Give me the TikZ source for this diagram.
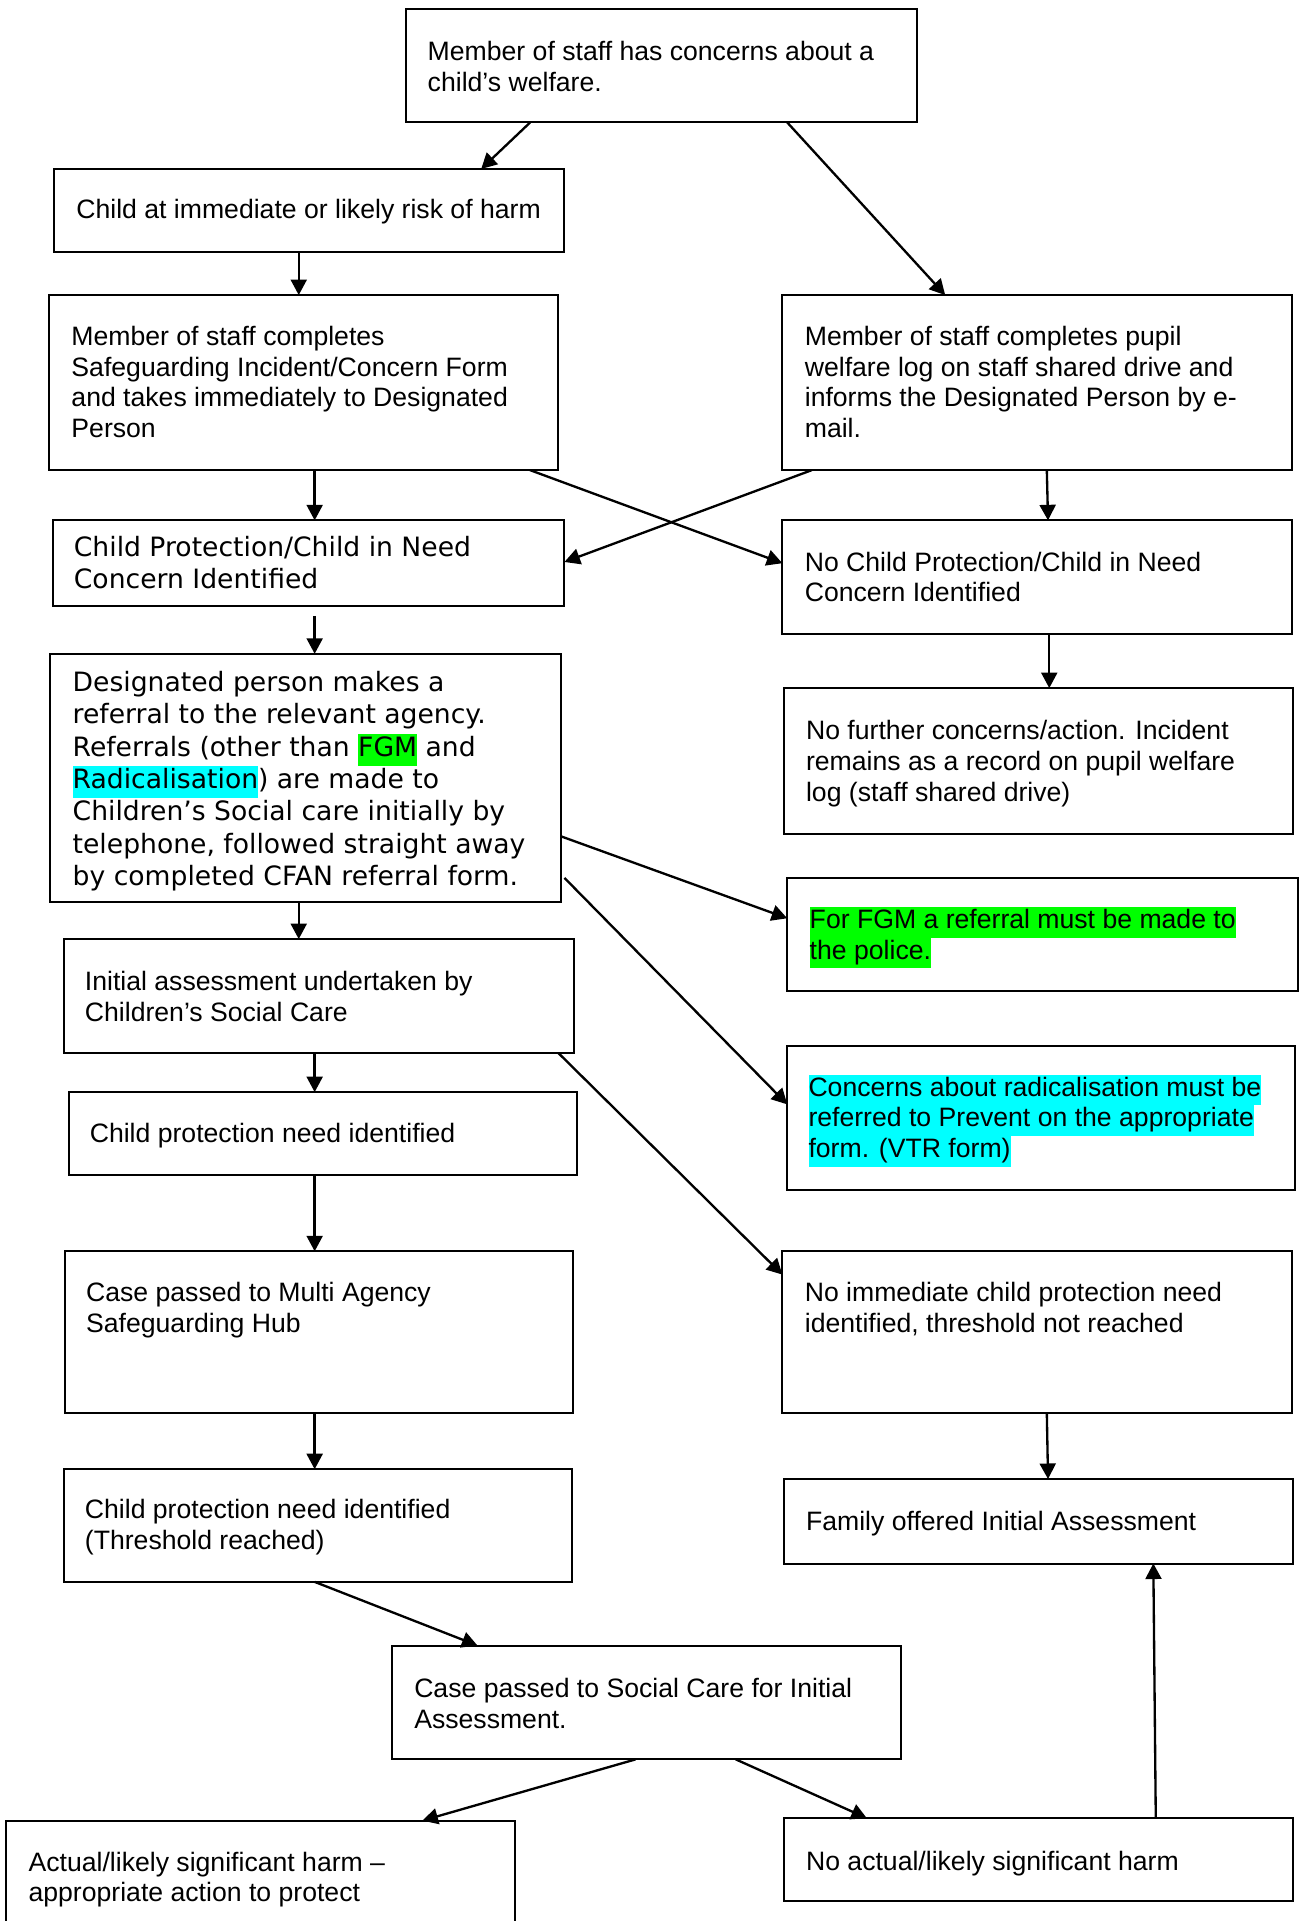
\documentclass[tikz,border=0pt]{standalone}
\usepackage{fontspec}
\setmainfont{Liberation Sans}
\newfontfamily\verd{DejaVu Sans}
\usetikzlibrary{calc,arrows.meta}
\definecolor{hlgreen}{HTML}{00FF00}
\definecolor{hlcyan}{HTML}{00FFFF}
\newcommand{\hlg}[1]{{\setlength{\fboxsep}{0pt}\colorbox{hlgreen}{\strut #1}}}
\newcommand{\hlc}[1]{{\setlength{\fboxsep}{0pt}\colorbox{hlcyan}{\strut #1}}}
\newcommand{\mybox}[5]{\node[box, minimum width={(#4-#2)*0.552pt}, minimum height={(#5-#3)*0.552pt}] (#1) at (#2,#3) {};}
\tikzset{
  box/.style={draw, line width=0.9pt, anchor=north west, inner sep=0pt, outer sep=0pt, rectangle},
  txt/.style={anchor=north west, inner sep=0pt, align=left, font=\fontsize{12pt}{13.8pt}\selectfont},
  vtxt/.style={anchor=north west, inner sep=0pt, align=left, font=\verd\fontsize{12pt}{14.58pt}\selectfont},
  arr/.style={draw, line width=1.05pt, -{Triangle[length=7pt,width=7.2pt]}},
}
\begin{document}
\begin{tikzpicture}[x=0.552pt, y=-0.552pt]
\useasboundingbox (0,0) rectangle (1062,1569);
% boxes
\mybox{b1}{332}{7}{749}{100}
\mybox{b2}{44}{138}{461}{206}
\mybox{b3}{40}{241}{456}{384}
\mybox{b4}{639}{241}{1055}{384}
\mybox{b5}{43}{425}{461}{495}
\mybox{b6}{639}{425}{1055}{518}
\mybox{b7}{640}{562}{1056}{681}
\mybox{b8}{41}{534}{458}{737}
\mybox{b9}{643}{717}{1060}{809}
\mybox{b10}{643}{854}{1058}{972}
\mybox{b11}{52}{767}{469}{860}
\mybox{b12}{56}{892}{471}{960}
\mybox{b13}{53}{1022}{468}{1154}
\mybox{b14}{639}{1022}{1055}{1154}
\mybox{b15}{52}{1200}{467}{1292}
\mybox{b16}{640}{1208}{1056}{1277}
\mybox{b17}{320}{1344}{736}{1437}
\mybox{b18}{5}{1487}{421}{1600}
\mybox{b19}{640}{1485}{1056}{1553}
% texts
\node[txt] (t1) at (349,31.5) {\strut Member of staff has concerns about a\\child’s welfare.};
\node[txt] (t2) at (62,160.5) {\strut Child at immediate or likely risk of harm};
\node[txt] (t3) at (58,264.5) {\strut Member of staff completes\\Safeguarding Incident/Concern Form\\and takes immediately to Designated\\Person};
\node[txt] (t4) at (657,264.5) {\strut Member of staff completes pupil\\welfare log on staff shared drive and\\informs the Designated Person by e-\\mail.};
\node[vtxt] (t5) at (60,435.5) {\strut Child Protection/Child in Need\\Concern Identified};
\node[txt] (t6) at (657,448.5) {\strut No Child Protection/Child in Need\\Concern Identified};
\node[txt] (t7) at (658,586.5) {\strut No further concerns/action. Incident\\remains as a record on pupil welfare\\log (staff shared drive)};
\node[vtxt] (t8) at (59,546) {\strut Designated person makes a\\referral to the relevant agency.\\Referrals (other than \hlg{FGM} and\\\hlc{Radicalisation}) are made to\\Children’s Social care initially by\\telephone, followed straight away\\by completed CFAN referral form.};
\node[txt] (t9) at (661,740.5) {\hlg{For FGM a referral must be made to}\\\hlg{the police.}};
\node[txt] (t10) at (660,877.5) {\hlc{Concerns about radicalisation must be}\\\hlc{referred to Prevent on the appropriate}\\\hlc{form. (VTR form)}};
\node[txt] (t11) at (69,791.5) {\strut Initial assessment undertaken by\\Children’s Social Care};
\node[txt] (t12) at (73,915.5) {\strut Child protection need identified};
\node[txt] (t13) at (70,1045.5) {\strut Case passed to Multi Agency\\Safeguarding Hub};
\node[txt] (t14) at (657,1045.5) {\strut No immediate child protection need\\identified, threshold not reached};
\node[txt] (t15) at (69,1222.5) {\strut Child protection need identified\\(Threshold reached)};
\node[txt] (t16) at (658,1232.5) {\strut Family offered Initial Assessment};
\node[txt] (t17) at (338,1368.5) {\strut Case passed to Social Care for Initial\\Assessment.};
\node[txt] (t18) at (23,1510.5) {\strut Actual/likely significant harm –\\appropriate action to protect};
\node[txt] (t19) at (658,1509.5) {\strut No actual/likely significant harm};
% arrows
\draw[arr] ($(b1.south west)+(101,0)$) -- ($(b2.north west)+(349,0)$);
\draw[arr] ($(b1.south west)+(311,0)$) -- ($(b4.north west)+(133,0)$);
\draw[arr] ($(b2.south west)+(200,0)$) -- ($(b3.north west)+(204,0)$);
\draw[arr] ($(b3.south west)+(217,0)$) -- ($(b5.north west)+(214,0)$);
\draw[arr] ($(b3.south west)+(393,0)$) -- ($(b6.north west)+(0,35)$);
\draw[arr] ($(b4.south west)+(24,0)$) -- ($(b5.north east)+(0,34)$);
\draw[arr] ($(b4.south west)+(216,0)$) -- ($(b6.north west)+(217,0)$);
\draw[arr] ($(b6.south west)+(218,0)$) -- ($(b7.north west)+(217,0)$);
\coordinate (c5) at ($(b5.south west)+(214,8)$);
\draw[arr] (c5) -- ($(b8.north west)+(216,0)$);
\draw[arr] ($(b8.north east)+(0,149)$) -- ($(b9.north west)+(0,33)$);
\draw[arr] ($(b8.north east)+(3,183)$) -- ($(b10.north west)+(0,48)$);
\draw[arr] ($(b8.south west)+(203,0)$) -- ($(b11.north west)+(192,0)$);
\draw[arr] ($(b11.south west)+(205,0)$) -- ($(b12.north west)+(201,0)$);
\draw[arr] ($(b12.south west)+(201,0)$) -- ($(b13.north west)+(204,0)$);
\draw[arr] ($(b11.south east)+(-13,0)$) -- ($(b14.north west)+(0,19)$);
\draw[arr] ($(b13.south west)+(204,0)$) -- ($(b15.north west)+(205,0)$);
\draw[arr] ($(b14.south west)+(216,0)$) -- ($(b16.north west)+(216,0)$);
\draw[arr] ($(b15.south west)+(205,0)$) -- ($(b17.north west)+(70,0)$);
\draw[arr] ($(b17.south west)+(199,0)$) -- ($(b18.north west)+(340,0)$);
\draw[arr] ($(b17.south west)+(281,0)$) -- ($(b19.north west)+(68,0)$);
\draw[arr] ($(b19.north west)+(304,0)$) -- ($(b16.south west)+(302,0)$);
\end{tikzpicture}
\end{document}
